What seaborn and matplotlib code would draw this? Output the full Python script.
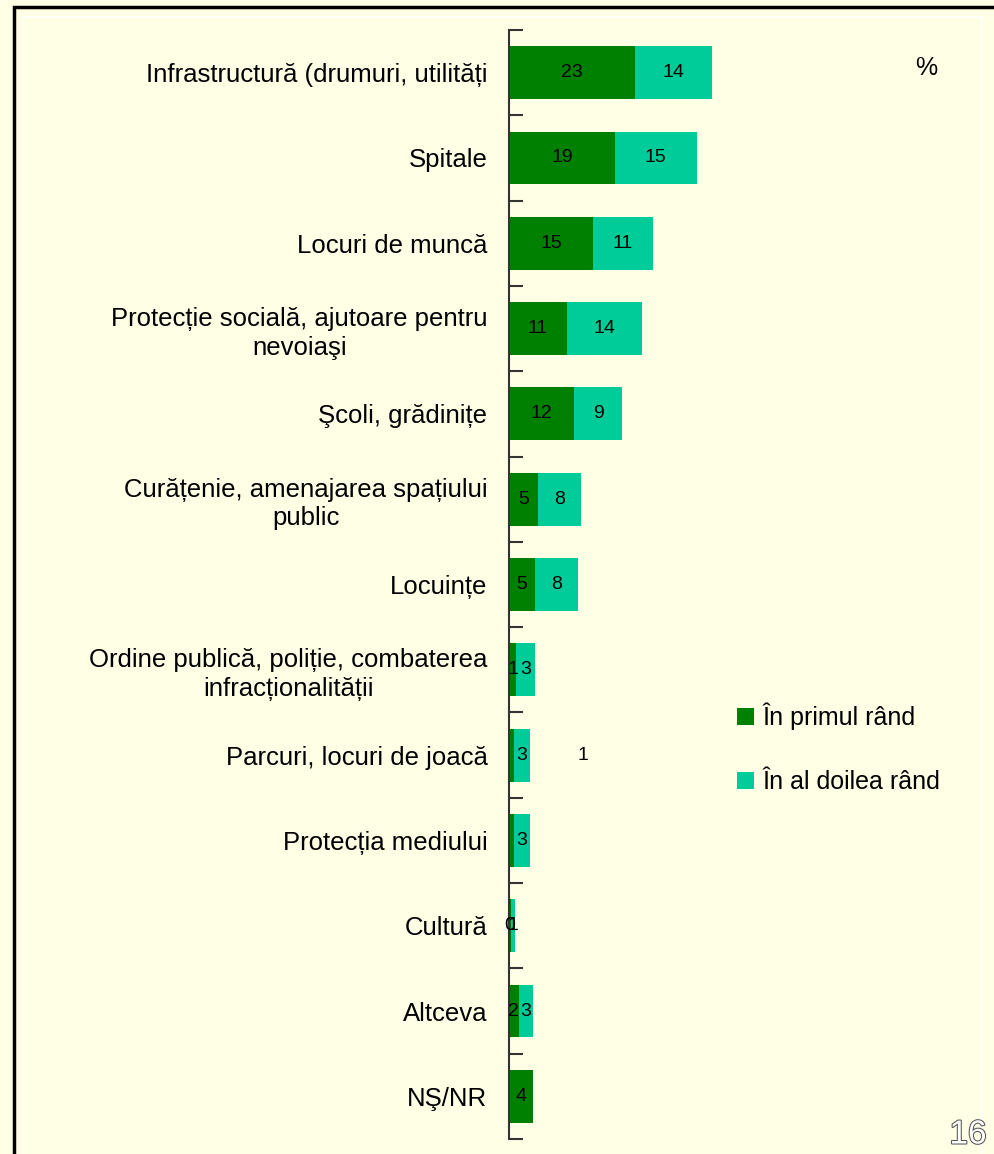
import numpy as np
import pandas as pd
import matplotlib
matplotlib.use("Agg")
import matplotlib.pyplot as plt
import matplotlib.patheffects as pe
from matplotlib.patches import Rectangle
import seaborn as sns

# data
categories = [
    "Infrastructură (drumuri, utilități",
    "Spitale",
    "Locuri de muncă",
    "Protecție socială, ajutoare pentru\nnevoiaşi",
    "Şcoli, grădinițe",
    "Curățenie, amenajarea spațiului\npublic",
    "Locuințe",
    "Ordine publică, poliție, combaterea\ninfracționalității",
    "Parcuri, locuri de joacă",
    "Protecția mediului",
    "Cultură",
    "Altceva",
    "NŞ/NR",
]
first_rank = [23.0, 19.3, 15.3, 10.6, 11.9, 5.3, 4.7, 1.3, 0.9, 0.9, 0.35, 1.8, 4.4]
second_rank = [14.0, 15.0, 11.0, 13.7, 8.7, 7.8, 7.9, 3.4, 2.9, 2.9, 0.75, 2.6, 0.0]
first_labels = ["23", "19", "15", "11", "12", "5", "5", "1", "", "", "0", "2", "4"]
second_labels = ["14", "15", "11", "14", "9", "8", "8", "3", "3", "3", "1", "3", ""]
series_names = ["În primul rând", "În al doilea rând"]

DARK = "#008000"
LIGHT = "#00CC99"
BG = "#FFFFE6"

df = pd.DataFrame({"cat": categories, "first": first_rank, "second": second_rank})
df["total"] = df["first"] + df["second"]

plt.rcParams["font.family"] = ["Liberation Sans", "DejaVu Sans"]

fig = plt.figure(figsize=(9.94, 11.54), dpi=100, facecolor=BG)
ax = fig.add_axes([509 / 994, 1 - 1139 / 1154, 0.441, 1109 / 1154])
ax.set_facecolor(BG)

# stacked bars: total in light colour, first rank drawn over it
sns.barplot(data=df, y="cat", x="total", color=LIGHT, orient="h",
            width=0.62, saturation=1, ax=ax, errorbar=None)
sns.barplot(data=df, y="cat", x="first", color=DARK, orient="h",
            width=0.62, saturation=1, ax=ax, errorbar=None)

n = len(categories)
for i in range(n):
    f, s = first_rank[i], second_rank[i]
    if first_labels[i]:
        ax.text(f / 2, i, first_labels[i], ha="center", va="center",
                fontsize=14, color="black")
    if second_labels[i]:
        ax.text(f + s / 2, i, second_labels[i], ha="center", va="center",
                fontsize=14, color="black")

# stray label that Excel left beside the "Parcuri" bar
ax.text(13.5, 8, "1", ha="center", va="center", fontsize=14, color="black")

ax.set_xlim(0, 80)
ax.set_ylim(n - 0.5, -0.5)
ax.set_xlabel("")
ax.set_ylabel("")
ax.set_xticks([])

for side in ["top", "right", "bottom"]:
    ax.spines[side].set_visible(False)
ax.spines["left"].set_color("#333333")
ax.spines["left"].set_linewidth(1.5)

ax.set_yticks(range(n))
ax.set_yticklabels(categories, fontsize=18.5, multialignment="center",
                   linespacing=1.25)
ax.tick_params(axis="y", which="major", length=0, pad=15.5)
ax.set_yticks(np.arange(-0.5, n, 1.0), minor=True)
ax.tick_params(axis="y", which="minor", length=10, width=1.5,
               direction="in", color="#333333")

# legend on the right
handles = [Rectangle((0, 0), 1, 1, facecolor=DARK),
           Rectangle((0, 0), 1, 1, facecolor=LIGHT)]
fig.legend(handles, series_names, loc="upper left",
           bbox_to_anchor=(714 / 994, 1 - 680 / 1154), frameon=False,
           fontsize=18, handlelength=0.7, handleheight=0.7,
           handletextpad=0.35, labelspacing=1.6)

fig.text(926 / 994, 1 - 68 / 1154, "%", fontsize=18, ha="center", va="center")
fig.text(968 / 994, 1 - 1135 / 1154, "16", fontsize=24, ha="center",
         va="center", color="white",
         path_effects=[pe.withStroke(linewidth=1.5, foreground="#555555")])

# slide frame: black outer border and thin white inner line
fig.add_artist(Rectangle((14 / 994, -0.1), 1.2, 1 - 7 / 1154 + 0.1,
                         transform=fig.transFigure, fill=False,
                         edgecolor="black", linewidth=2.5))
fig.add_artist(Rectangle((23 / 994, -0.1), 959 / 994, 1 - 17 / 1154 + 0.1,
                         transform=fig.transFigure, fill=False,
                         edgecolor="white", linewidth=1.2))

fig.savefig("out.png", dpi=100, facecolor=BG)
